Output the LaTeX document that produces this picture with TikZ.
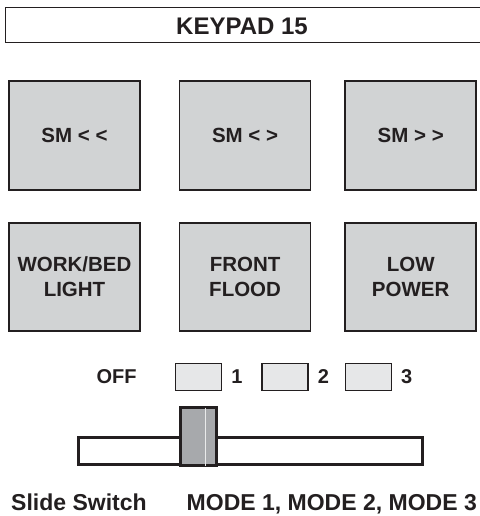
\documentclass[tikz,border=0pt]{standalone}
\usepackage{fontspec}
\setmainfont{Liberation Sans}
\usetikzlibrary{positioning}

\definecolor{keygray}{HTML}{D1D3D4}
\definecolor{ledgray}{HTML}{E6E7E8}
\definecolor{knobgray}{HTML}{A7A9AC}
\definecolor{inkdark}{HTML}{231F20}

\begin{document}
\begin{tikzpicture}[x=1pt, y=-1pt, node distance=31pt and 38pt]
            \tikzstyle{keybtn} = [rectangle, draw=inkdark, fill=keygray, line width=1.6pt,
                minimum width=131pt, minimum height=108pt, text=inkdark, align=center,
                font=\fontsize{20.5}{25}\selectfont\bfseries]
            \tikzstyle{ledbox} = [rectangle, draw=inkdark, fill=ledgray, line width=1.4pt,
                minimum width=46pt, minimum height=27pt, inner sep=0pt]
            \tikzstyle{swtext} = [inner sep=0pt, text=inkdark, font=\fontsize{20}{24}\selectfont\bfseries]
            \tikzstyle{captext} = [inner sep=0pt, text=inkdark, font=\fontsize{23}{28}\selectfont\bfseries]

            \useasboundingbox (0,0) rectangle (479,516);

            % keypad title bar
            \draw [inkdark, line width=1.4pt] (5.7,7.7) rectangle (540,42.3);
            \node [captext, font=\fontsize{24}{28}\selectfont\bfseries] (title) at (242,26.7) {KEYPAD 15};

            % keys
            \node [keybtn, minimum height=109.5pt] (smback) at (74.5,135.5) {SM < <};
            \node [keybtn, minimum height=109.5pt, right=38pt of smback] (smstop) {SM < >};
            \node [keybtn, minimum height=109.5pt, right=33pt of smstop] (smfwd) {SM > >};
            \node [keybtn, below=31pt of smback] (worklight) {WORK/BED\\LIGHT};
            \node [keybtn, below=31pt of smstop] (frontflood) {FRONT\\FLOOD};
            \node [keybtn, below=31pt of smfwd] (lowpower) {LOW\\POWER};

            % mode indicators
            \node [ledbox] (ledone) at (198.5,377) {};
            \node [swtext, left=38pt of ledone] (off) {OFF};
            \node [swtext, right=9pt of ledone] (one) {1};
            \node [ledbox, right=39pt of ledone] (ledtwo) {};
            \node [swtext, right=9pt of ledtwo] (two) {2};
            \node [ledbox, right=36pt of ledtwo] (ledthree) {};
            \node [swtext, right=9pt of ledthree] (three) {3};

            % slide switch
            \node [draw=inkdark, fill=white, line width=3pt, minimum width=344pt,
                minimum height=27pt, inner sep=0pt] (track) at (250.5,451) {};
            \node [draw=inkdark, fill=knobgray, line width=3pt, minimum width=36pt,
                minimum height=58pt, inner sep=0pt] (knob) at (198.5,436.5) {};
            \draw [white!75!knobgray, line width=0.8pt, shorten >=1.5pt, shorten <=1.5pt]
                ([xshift=6.5pt]knob.north) -- ([xshift=6.5pt]knob.south);

            \node [captext, anchor=base west] (slidecap) at (11,510.5) {Slide Switch};
            \node [captext, anchor=base west] (modecap) at (186.5,510.5) {MODE 1, MODE 2, MODE 3};
        \end{tikzpicture}
\end{document}
